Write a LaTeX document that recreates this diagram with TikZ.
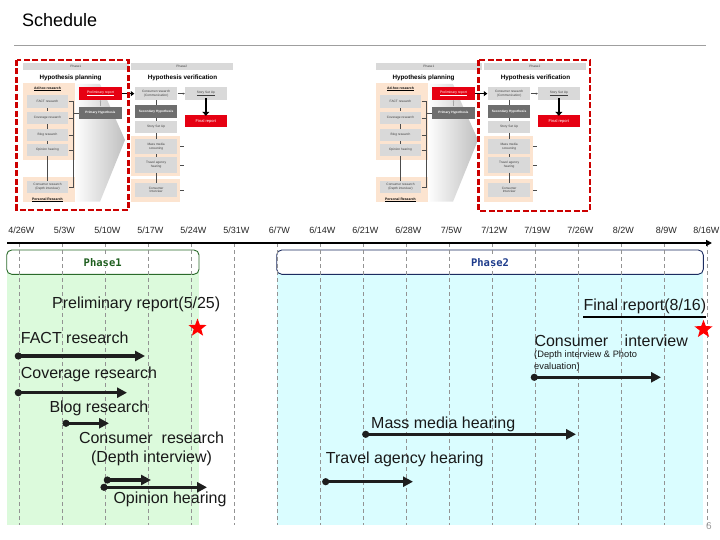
\documentclass[tikz,border=0pt]{standalone}
\usepackage{fontspec}
\setmainfont{Liberation Sans}
\newfontfamily\monof{DejaVu Sans Mono}
\usetikzlibrary{arrows.meta,shapes.geometric}
\definecolor{barc}{HTML}{1E1E1E}
\definecolor{pgreen}{HTML}{DCFADC}
\definecolor{pcyan}{HTML}{DAFDFF}
\definecolor{peach}{HTML}{FCE4D0}
\definecolor{lgray}{HTML}{D9D9D9}
\definecolor{dgray}{HTML}{6E6E6E}
\definecolor{tred}{HTML}{E60012}
\definecolor{dred}{HTML}{CC0000}
\definecolor{ph1}{HTML}{2A6A2A}
\definecolor{ph2}{HTML}{1C2C60}
\definecolor{ph1t}{HTML}{1E5E1E}
\definecolor{ph2t}{HTML}{1E3C8C}
\tikzset{
 tbox/.style={font=\fontsize{3.2}{3.7}\selectfont, fill=lgray, align=center, inner sep=0pt, text=black!75},
 dbox/.style={font=\fontsize{3.2}{3.7}\selectfont\bfseries, fill=dgray, align=center, inner sep=0pt, text=white},
 rbox/.style={font=\fontsize{3.4}{3.9}\selectfont, fill=tred, align=center, inner sep=0pt, text=white},
 thin line/.style={draw=black!70, line width=0.4pt},
 bar/.style={line width=3.5pt, draw=barc, -{Triangle[length=10pt,width=10pt]}},
 bardot/.style={fill=barc},
 vline/.style={dash pattern=on 4pt off 3pt, draw=gray!85, line width=0.7pt},
 lbl/.style={font=\fontsize{16}{19}\selectfont, anchor=west, inner sep=0pt, text=black!90},
 datef/.style={font=\fontsize{9}{10}\selectfont, inner sep=0pt, text=black!85},
 redstar/.style={star, star points=5, star point ratio=2.4, fill=red, draw=none, minimum size=19pt, inner sep=0pt},
 reddash/.style={draw=dred, line width=2.6pt, dash pattern=on 6pt off 2.5pt},
}
\newcommand{\thumbpic}[2]{%
\begin{scope}[xshift=#1pt, name prefix=#2]
 \node[tbox, minimum width=106.3pt, minimum height=6.7pt] (h1) at (75.85,66.65) {Phase1};
 \node[tbox, minimum width=102.3pt, minimum height=6.7pt] (h2) at (181.85,66.65) {Phase2};
 \node[font=\fontsize{6.3}{7}\selectfont\bfseries, inner sep=0pt] (t1) at (70.5,77.5) {Hypothesis planning};
 \node[font=\fontsize{6.3}{7}\selectfont\bfseries, inner sep=0pt] (t2) at (182.5,77.5) {Hypothesis verification};
 \shade[left color=white, right color=gray!50] (74,84) -- (100,84) -- (125,140) -- (100,201.7) -- (74,201.7) -- cycle;
 \fill[peach] (22.7,83.3) rectangle (75,160);
 \fill[peach] (22.7,176.7) rectangle (75,201.7);
 \fill[peach] (130.7,136) rectangle (180,176);
 \fill[peach] (130.7,179.3) rectangle (180,201.7);
 \node[font=\fontsize{3.4}{3.9}\selectfont\bfseries, inner sep=0pt] (adh) at (47.5,89) {\underline{Ad-hoc research}};
 \node[tbox, minimum width=41.6pt, minimum height=12.5pt] (fact) at (47.5,101.6) {FACT research};
 \node[tbox, minimum width=41.6pt, minimum height=12.3pt] (cov) at (47.5,117.8) {Coverage research};
 \node[tbox, minimum width=41.6pt, minimum height=11.7pt] (blog) at (47.5,134.8) {Blog research};
 \node[tbox, minimum width=41.6pt, minimum height=11.7pt] (opin) at (47.5,150.1) {Opinion hearing};
 \node[tbox, minimum width=41.6pt, minimum height=11.7pt] (cons) at (47.5,186.8) {Consumer research\\(Depth interview)};
 \node[font=\fontsize{3.4}{3.9}\selectfont\bfseries, inner sep=0pt] (pers) at (47.5,200) {\underline{Personal Research}};
 \draw[thin line] (fact.south) -- (cov.north) (cov.south) -- (blog.north) (blog.south) -- (opin.north) (opin.south) -- (cons.north);
 \coordinate (bt) at (73,101.6);
 \coordinate (bb) at (73,186.8);
 \coordinate (bm) at (73,113);
 \draw[thin line] (fact.east) -- (bt) -- (bb) -- (cons.east);
 \draw[thin line] (cov.east) -- (cov.east -| bt);
 \draw[thin line] (blog.east) -- (blog.east -| bt);
 \draw[thin line] (opin.east) -- (opin.east -| bt);
 \node[rbox, minimum width=42.4pt, minimum height=12.7pt] (prel) at (100.5,93.65) {\underline{Preliminary report}};
 \node[dbox, minimum width=42.4pt, minimum height=12.6pt] (prim) at (100.5,113) {Primary Hypothesis};
 \draw[thin line] (bm) -- (prim.west);
 \draw[draw=gray!70, line width=0.4pt, -{Triangle[length=1.5pt,width=1.5pt]}] (prim.north) -- (prel.south);
 \node[tbox, minimum width=42.3pt, minimum height=12.7pt] (cr) at (156.15,93.65) {Consumer research\\(Communication)};
 \node[dbox, minimum width=42.3pt, minimum height=12.7pt] (sec) at (156.15,111.35) {Secondary Hypothesis};
 \node[tbox, minimum width=42.3pt, minimum height=12.3pt] (sto) at (156.15,127.15) {Story Set Up};
 \node[tbox, minimum width=42.3pt, minimum height=14.7pt] (mm) at (156.15,146.65) {Mass media\\screening};
 \node[tbox, minimum width=42.3pt, minimum height=15.4pt] (ta) at (156.15,165) {Travel agency\\hearing};
 \node[tbox, minimum width=42.3pt, minimum height=13.4pt] (ci) at (156.15,190) {Consumer\\Interview};
 \draw[thin line] (cr.south) -- (sec.north) (sec.south) -- (sto.north) (sto.south) -- (mm.north) (mm.south) -- (ta.north) (ta.south) -- (ci.north);
 \draw[thin line] (180,146.65) -- (184,146.65) (180,165) -- (184,165) (180,190) -- (184,190);
 \draw[draw=black, line width=1.6pt, -{Triangle[length=3.5pt,width=5pt]}] (prel.east) -- ([xshift=-0.5pt]cr.west);
 \node[tbox, minimum width=41.7pt, minimum height=12.7pt] (sset) at (205.85,93.65) {\underline{Story Set Up}};
 \node[rbox, minimum width=41.7pt, minimum height=12.3pt, font=\fontsize{4}{4.5}\selectfont] (fin) at (205.85,121.15) {Final report};
 \draw[thin line, -{Triangle[length=2pt,width=2pt]}] (cr.east) -- (sset.west);
 \draw[draw=black, line width=2.6pt, -{Triangle[length=4pt,width=7pt]}] ([yshift=2pt]sset.south) -- ([yshift=-1pt]fin.north);
\end{scope}}
\begin{document}
\begin{tikzpicture}[x=1pt,y=-1pt]
\useasboundingbox (0,0) rectangle (720,540);
\fill[white] (0,0) rectangle (720,540);
\node[font=\fontsize{18}{20}\selectfont, anchor=west, inner sep=0pt] (title) at (22,20) {Schedule};
\draw[gray!75, line width=1.1pt] (14,45.5) -- (706,45.5);
\thumbpic{0}{L-}
\thumbpic{353}{R-}
\draw[reddash] (16.7,60) rectangle (128.3,210);
\draw[reddash] (478.3,60) rectangle (590,211);
\fill[pgreen] (6.7,262) rectangle (199,525);
\fill[pcyan] (277,262) rectangle (703.3,525);
\draw[ph1, fill=white, rounded corners=5pt, line width=0.9pt] (6.7,250) rectangle (199,274.3);
\draw[ph2, fill=white, rounded corners=5pt, line width=0.9pt] (276.7,250) rectangle (703.3,274.3);
\foreach \i in {0,...,16} \draw[vline] ({19.3+43*\i},243) -- ({19.3+43*\i},525);
\coordinate (ax0) at (7,243);
\coordinate (ax1) at (712,243);
\draw[line width=2pt, -{Triangle[length=6pt,width=6pt]}] (ax0) -- (ax1);
\foreach \d [count=\i from 0] in {{4/26W},{5/3W},{5/10W},{5/17W},{5/24W},{5/31W},{6/7W},{6/14W},{6/21W},{6/28W},{7/5W},{7/12W},{7/19W},{7/26W},{8/2W},{8/9W}}
  \node[datef] (d\i) at ({21.3+43*\i},230.5) {\d};
\node[datef, anchor=east] (d16) at (719.5,230.5) {8/16W};
\node[font=\fontsize{10.5}{12}\monof\bfseries, text=ph1t, fill=white, inner sep=1pt] (p1) at (102.7,262.2) {Phase1};
\node[font=\fontsize{10.5}{12}\monof\bfseries, text=ph2t, fill=white, inner sep=1pt] (p2) at (490,262.2) {Phase2};
\node[lbl] (prl) at (52,304.5) {Preliminary report(5/25)};
\node[redstar] (s1) at (197.5,328) {};
\node[lbl] (lfact) at (20.7,338) {FACT research};
\node[lbl] (lcov) at (20.7,374) {Coverage research};
\node[lbl] (lblog) at (49.3,408) {Blog research};
\node[font=\fontsize{16}{19}\selectfont, align=center, inner sep=0pt, text=black!90] (lcons) at (151.5,448.5) {Consumer\ \ research\\(Depth interview)};
\node[lbl] (lop) at (113.3,499.3) {Opinion hearing};
\coordinate (a1s) at (18.3,356); \coordinate (a1e) at (145,356);
\coordinate (a2s) at (18.3,392.7); \coordinate (a2e) at (127,392.7);
\coordinate (a3s) at (66,423.3); \coordinate (a3e) at (109,423.3);
\coordinate (a4s) at (107.3,480); \coordinate (a4e) at (151,480);
\coordinate (a5s) at (104,487.3); \coordinate (a5e) at (207,487.3);
\coordinate (b1s) at (534.3,377.3); \coordinate (b1e) at (661,377.3);
\coordinate (b2s) at (365.7,434.3); \coordinate (b2e) at (576,434.3);
\coordinate (b3s) at (325.7,481.7); \coordinate (b3e) at (413,481.7);
\foreach \s/\e in {a1s/a1e,a2s/a2e,a3s/a3e,a4s/a4e,a5s/a5e,b1s/b1e,b2s/b2e,b3s/b3e}{
  \draw[bar] (\s) -- (\e);
  \fill[bardot] (\s) circle (3.6pt);
}
\node[lbl] (frl) at (583.3,306.7) {Final report(8/16)};
\draw[black, line width=1.3pt] ([yshift=-2.5pt]frl.south west) -- ([yshift=-2.5pt]frl.south east);
\node[redstar] (s2) at (703.5,329.3) {};
\node[lbl] (lci) at (534.3,340.7) {Consumer\hspace{12pt} interview};
\node[font=\fontsize{9.3}{11.7}\selectfont, anchor=north west, align=left, inner sep=0pt, text=black!90] (lci2) at (534,350.5) {(Depth interview \& Photo\\evaluation)};
\node[lbl] (lmm) at (371,424.3) {Mass media hearing};
\node[lbl] (lta) at (325.7,459.3) {Travel agency hearing};
\node[font=\fontsize{10}{12}\selectfont, text=gray!80, inner sep=0pt] (pg) at (709,526) {6};
\end{tikzpicture}
\end{document}
